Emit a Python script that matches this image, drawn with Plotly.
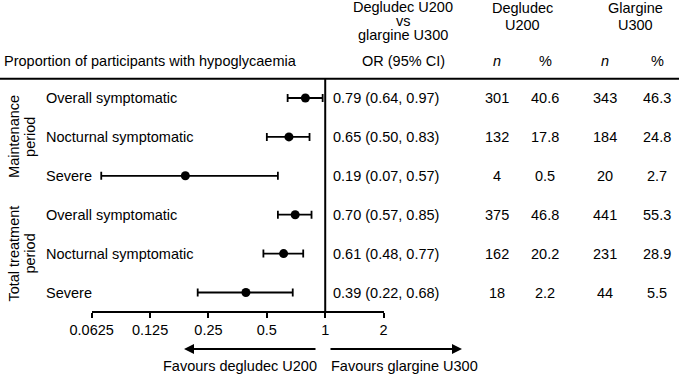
import plotly.graph_objects as go
import math

W, H = 679, 374

outcomes = ["Overall symptomatic", "Nocturnal symptomatic", "Severe",
            "Overall symptomatic", "Nocturnal symptomatic", "Severe"]
or_est = [0.79, 0.65, 0.19, 0.70, 0.61, 0.39]
ci_low = [0.64, 0.50, 0.07, 0.57, 0.48, 0.22]
ci_high = [0.97, 0.83, 0.57, 0.85, 0.77, 0.68]
deg_n = [301, 132, 4, 375, 162, 18]
deg_pct = [40.6, 17.8, 0.5, 46.8, 20.2, 2.2]
gla_n = [343, 184, 20, 441, 231, 44]
gla_pct = [46.3, 24.8, 2.7, 55.3, 28.9, 5.5]
groups = [["Maintenance", "period"], ["Total treatment", "period"]]
group_rows = [1, 4]
tick_vals = [0.0625, 0.125, 0.25, 0.5, 1, 2]
tick_text = ["0.0625", "0.125", "0.25", "0.5", "1", "2"]

FONT = "Liberation Sans, Arial, Helvetica, sans-serif"
FS = 14.5

row0, rowstep = 98, 38.9
x_axis_left, x_axis_right = 91.7, 383.6
axis_y = 311.5
header_y = 78.8

def px(x):
    return x / W

def py(y):
    return 1 - y / H

rows = list(range(len(outcomes)))

fig = go.Figure()
fig.add_trace(go.Scatter(
    x=or_est, y=rows, mode="markers",
    marker=dict(color="black", size=9),
    error_x=dict(type="data", symmetric=False,
                 array=[h - e for h, e in zip(ci_high, or_est)],
                 arrayminus=[e - l for e, l in zip(or_est, ci_low)],
                 color="black", thickness=1.8, width=4),
    showlegend=False, hoverinfo="skip", cliponaxis=False))

ymin = -row0 / rowstep
ymax = (H - row0) / rowstep

fig.update_layout(
    width=W, height=H,
    margin=dict(l=0, r=0, t=0, b=0, pad=0, autoexpand=False),
    paper_bgcolor="white", plot_bgcolor="white",
    font=dict(family=FONT, size=FS, color="black"),
    xaxis=dict(type="log",
               range=[math.log10(0.0625), math.log10(2)],
               domain=[px(x_axis_left), px(x_axis_right)],
               anchor="free", position=py(axis_y), automargin=False,
               showgrid=False, zeroline=False,
               showline=True, linecolor="black", linewidth=2,
               ticks="outside", ticklen=5, tickwidth=2, tickcolor="black",
               tickvals=tick_vals, ticktext=tick_text,
               tickfont=dict(family=FONT, size=FS, color="black")),
    yaxis=dict(range=[ymax, ymin], domain=[0, 1], visible=False,
               showgrid=False, zeroline=False, automargin=False),
)

shapes = []
shapes.append(dict(type="line", xref="paper", yref="paper",
                   x0=0, x1=1, y0=py(header_y), y1=py(header_y),
                   line=dict(color="black", width=2)))
shapes.append(dict(type="line", xref="x", yref="paper",
                   x0=1, x1=1, y0=py(header_y), y1=py(axis_y),
                   line=dict(color="black", width=2)))
fig.update_layout(shapes=shapes)

ann = []
def text(x, y, s, xanchor="center", yref="paper", **kw):
    ann.append(dict(x=x, y=y, xref="paper", yref=yref, text=s,
                    showarrow=False, xanchor=xanchor, yanchor="middle",
                    borderpad=0, borderwidth=0,
                    font=dict(family=FONT, size=FS, color="black"), **kw))

text(px(4), py(61), "Proportion of participants with hypoglycaemia", xanchor="left")
text(px(403), py(7.5), "Degludec U200")
text(px(403), py(21), "vs")
text(px(403), py(34.5), "glargine U300")
text(px(403), py(61), "OR (95% CI)")
text(px(522), py(8), "Degludec")
text(px(522), py(24.5), "U200")
text(px(635), py(8), "Glargine")
text(px(635), py(24.5), "U300")
text(px(497), py(61), "<i>n</i>")
text(px(545), py(61), "%")
text(px(605), py(61), "<i>n</i>")
text(px(657), py(61), "%")

for i in rows:
    text(px(46), i, outcomes[i], xanchor="left", yref="y")
    text(px(333), i, f"{or_est[i]:.2f} ({ci_low[i]:.2f}, {ci_high[i]:.2f})",
         xanchor="left", yref="y")
    text(px(497), i, str(deg_n[i]), yref="y")
    text(px(545), i, f"{deg_pct[i]:.1f}", yref="y")
    text(px(605), i, str(gla_n[i]), yref="y")
    text(px(657), i, f"{gla_pct[i]:.1f}", yref="y")

for g, r in zip(groups, group_rows):
    text(px(14), r, g[0], yref="y", textangle=-90)
    text(px(30), r, g[1], yref="y", textangle=-90)

ann.append(dict(x=px(184), y=py(349), xref="paper", yref="paper",
                ax=317 - 184, ay=0, showarrow=True, arrowhead=2,
                arrowsize=1, arrowwidth=2, arrowcolor="black", text=""))
ann.append(dict(x=px(462), y=py(349), xref="paper", yref="paper",
                ax=329 - 462, ay=0, showarrow=True, arrowhead=2,
                arrowsize=1, arrowwidth=2, arrowcolor="black", text=""))
text(px(317), py(366), "Favours degludec U200", xanchor="right")
text(px(331), py(366), "Favours glargine U300", xanchor="left")

fig.update_layout(annotations=ann)
fig.write_html("out.html", config={"displayModeBar": False},
               post_script="document.body.style.margin='0';document.body.style.overflow='hidden';")
